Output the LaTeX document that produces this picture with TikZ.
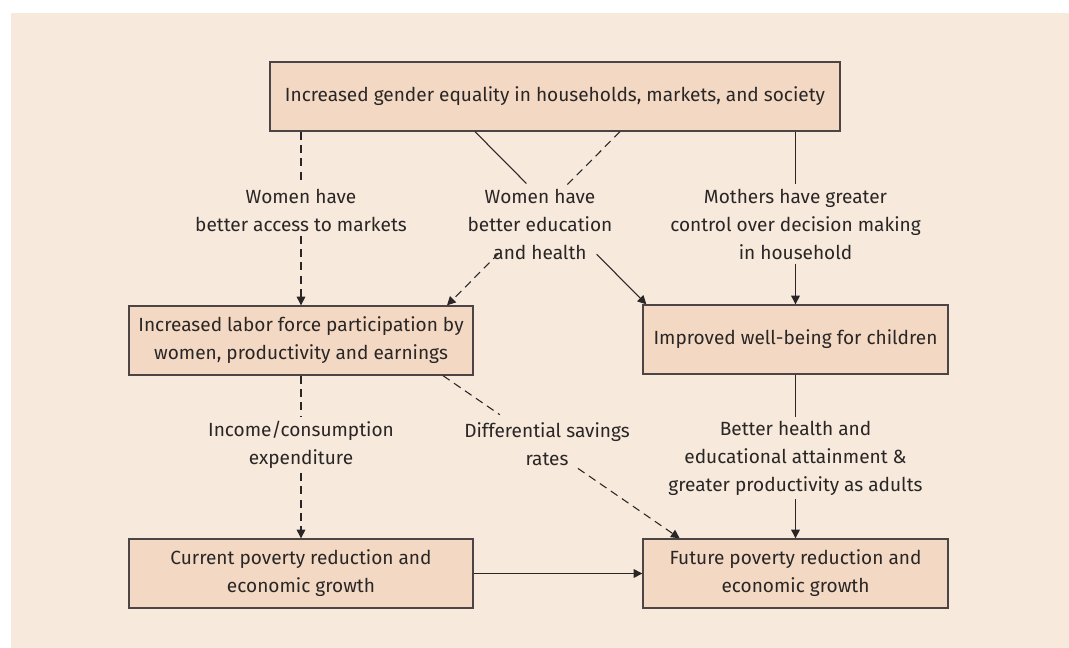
\documentclass[tikz,border=0pt]{standalone}
\usepackage{fontspec}
\setmainfont{Fira Sans}
\usetikzlibrary{positioning,arrows.meta}
\definecolor{panel}{HTML}{F7E9DB}
\definecolor{boxfill}{HTML}{F3D9C3}
\definecolor{edge}{HTML}{4D4545}
\definecolor{ink}{HTML}{2A2626}

\begin{document}
\begin{tikzpicture}[x=0.75pt, y=-0.75pt,
  b/.style={draw=edge, line width=1pt, fill=boxfill, text=ink, minimum height=51.75pt, align=center, inner sep=0pt},
  lbl/.style={text=ink, align=center, inner sep=3pt},
  link/.style={draw=ink, line width=0.8pt},
  brk/.style={dash pattern=on 6pt off 4pt},
  >={Triangle[length=6.5pt,width=6.5pt]},
  font=\fontsize{14.3}{21}\selectfont]

	\useasboundingbox (0,0) rectangle (1069,648);
	\fill[white] (0,0) rectangle (1069,648);
	\fill[panel] (11,13) rectangle (1069,648);

	\node [b, minimum width=427.5pt] (top) at (555,96.5) {Increased gender equality in households, markets, and society};
	\node [b, minimum width=258pt] (lab) at (301,340.5) {Increased labor force participation by\\women, productivity and earnings};
	\node [b, minimum width=228.75pt] (kids) at (795.5,339.5) {Improved well-being for children};
	\node [b, minimum width=258pt] (now) at (301,573.5) {Current poverty reduction and\\economic growth};
	\node [b, minimum width=228.75pt] (future) at (795.5,573.5) {Future poverty reduction and\\economic growth};

	\node [lbl] (access) at (301,210) {Women have\\better access to markets};
	\node [lbl] (edu) at (540,224) {Women have\\better education\\and health};
	\node [lbl] (mothers) at (795.5,224) {Mothers have greater\\control over decision making\\in household};
	\node [lbl] (income) at (301,445) {Income/consumption\\expenditure};
	\node [lbl] (savings) at (547,444) {Differential savings\\rates};
	\node [lbl] (health) at (795.5,458) {Better health and\\educational attainment \&\\greater productivity as adults};

	% start points of the crossing lines
	\path (top.south) ++(-80,0) coordinate (eduL) ++(145,0) coordinate (eduR);
	\path (eduL) -- ([xshift=3pt]kids.north west) coordinate [pos=.30] (a1) coordinate [pos=.71] (a2);
	\path (eduR) -- ([xshift=-20pt]lab.north east) coordinate [pos=.31] (b1) coordinate [pos=.70] (b2);
	\path ([xshift=-23pt]lab.south east) coordinate (sav) -- ([xshift=28pt]future.north west) coordinate [pos=.24] (c1) coordinate [pos=.57] (c2);

	\draw[link, brk] (top.south -| access.north) -- (access.north);
	\draw[link, brk, ->] (access.south) -- (lab.north);
	\draw[link] (eduL) -- (a1);
	\draw[link, ->] (a2) -- ([xshift=3pt]kids.north west);
	\draw[link, brk] (eduR) -- (b1);
	\draw[link, brk, ->] (b2) -- ([xshift=-20pt]lab.north east);
	\draw[link] (top.south -| mothers.north) -- (mothers.north);
	\draw[link, ->] (mothers.south) -- (kids.north);
	\draw[link, brk] (lab.south) -- (income.north);
	\draw[link, brk, ->] (income.south) -- (now.north);
	\draw[link, brk] (sav) -- (c1);
	\draw[link, brk, ->] (c2) -- ([xshift=28pt]future.north west);
	\draw[link] (kids.south) -- (health.north);
	\draw[link, ->] (health.south) -- (future.north);
	\draw[link, ->] (now.east) -- (future.west);
\end{tikzpicture}
\end{document}
